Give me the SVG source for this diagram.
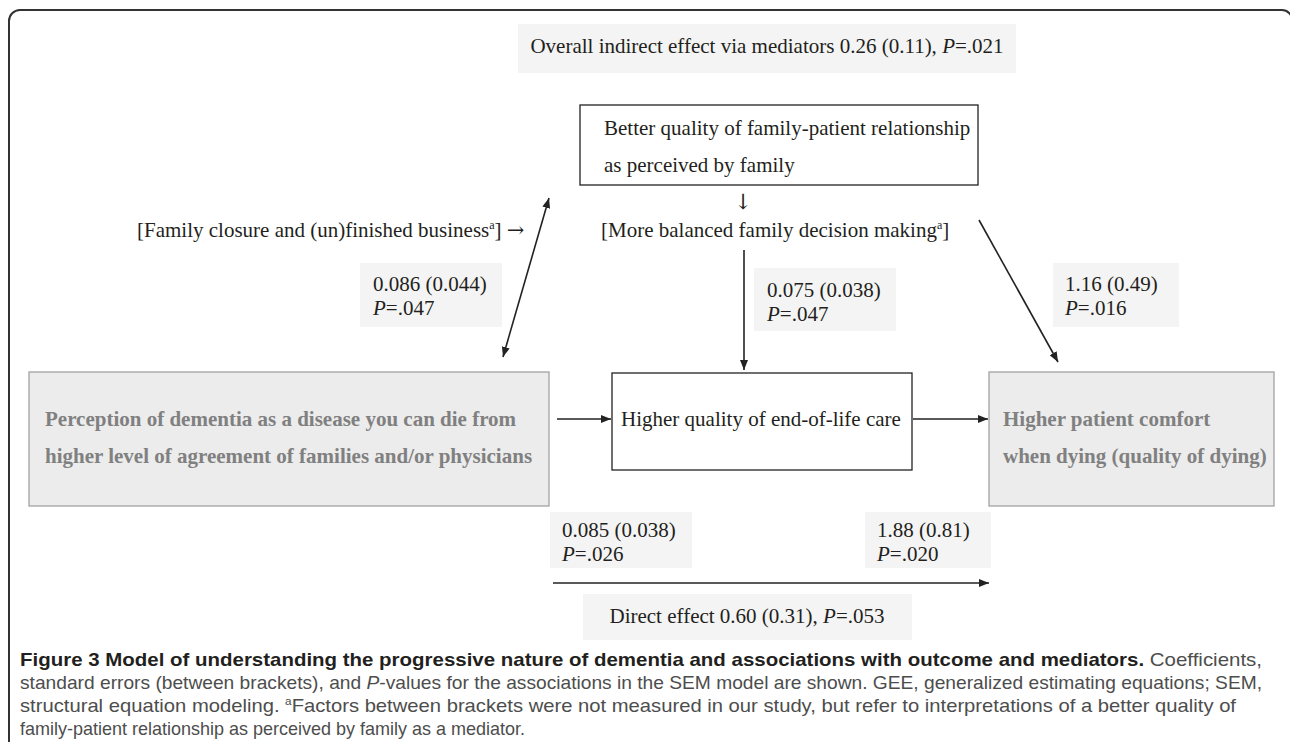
<svg xmlns="http://www.w3.org/2000/svg" width="1290" height="742" viewBox="0 0 1290 742">
<defs>
<marker id="ah" markerWidth="10" markerHeight="8" refX="10" refY="4" orient="auto" markerUnits="userSpaceOnUse"><path d="M0,0 L10,4 L0,8 Z" fill="#222"/></marker>
<marker id="ahs" markerWidth="10" markerHeight="8" refX="0" refY="4" orient="auto" markerUnits="userSpaceOnUse"><path d="M10,0 L0,4 L10,8 Z" fill="#222"/></marker>
<style>
.t{font-family:"Liberation Serif","Times New Roman",serif;font-size:21px;fill:#231f20}
.g{font-family:"Liberation Serif","Times New Roman",serif;font-size:21px;font-weight:bold;fill:#808080}
.ar{font-family:"DejaVu Serif",serif;font-size:21px}
.sup{font-size:12px}
.lab{fill:#f4f4f4;stroke:none}
.box{fill:#fff;stroke:#222;stroke-width:1.3}
.gbox{fill:#ececec;stroke:#a3a3a3;stroke-width:1.3}
.ln{stroke:#222;stroke-width:1.6;fill:none}
.cap{font-family:"Liberation Sans Narrow","Liberation Sans",sans-serif;font-size:19px;fill:#4d4d4d}
.capb{font-weight:bold;fill:#231f20}
</style>
</defs>
<path d="M9,742 V21 A11,11 0 0 1 20,10 H1282 A10,10 0 0 1 1292,20 V742" fill="none" stroke="#333" stroke-width="2"/>

<g id="connectors">
<line class="ln" x1="549" y1="198" x2="503" y2="357" marker-start="url(#ahs)" marker-end="url(#ah)"/>
<line class="ln" x1="744" y1="250" x2="744" y2="370" marker-end="url(#ah)"/>
<line class="ln" x1="979" y1="220" x2="1058" y2="362" marker-end="url(#ah)"/>
<line class="ln" x1="557" y1="419" x2="611" y2="419" marker-end="url(#ah)"/>
<line class="ln" x1="913" y1="419" x2="988" y2="419" marker-end="url(#ah)"/>
<line class="ln" x1="553" y1="583" x2="989" y2="583" marker-end="url(#ah)"/>
</g>

<g id="overall">
<rect class="lab" x="518" y="24" width="498" height="49"/>
<text class="t" x="767" y="53" text-anchor="middle">Overall indirect effect via mediators 0.26 (0.11), <tspan font-style="italic">P</tspan>=.021</text>
</g>

<g id="relationship">
<rect class="box" x="580" y="105" width="398" height="80"/>
<text class="t" x="604" y="135">Better quality of family-patient relationship</text>
<text class="t" x="604" y="172">as perceived by family</text>
</g>

<g id="decision">
<text class="t" x="743" y="209" text-anchor="middle"><tspan class="ar">↓</tspan></text>
<text class="t" x="601" y="237">[More balanced family decision making<tspan class="sup" dy="-8">a</tspan><tspan dy="8">]</tspan></text>
</g>

<g id="closure">
<text class="t" x="137" y="237">[Family closure and (un)finished business<tspan class="sup" dy="-8">a</tspan><tspan dy="8">] </tspan><tspan class="ar">→</tspan></text>
</g>

<g id="coef1">
<rect class="lab" x="360" y="263" width="142" height="64"/>
<text class="t" x="373" y="291">0.086 (0.044)</text>
<text class="t" x="373" y="315"><tspan font-style="italic">P</tspan>=.047</text>
</g>

<g id="coef2">
<rect class="lab" x="754" y="268" width="142" height="63"/>
<text class="t" x="767" y="297">0.075 (0.038)</text>
<text class="t" x="767" y="321"><tspan font-style="italic">P</tspan>=.047</text>
</g>

<g id="coef3">
<rect class="lab" x="1053" y="263" width="126" height="64"/>
<text class="t" x="1065" y="291">1.16 (0.49)</text>
<text class="t" x="1065" y="315"><tspan font-style="italic">P</tspan>=.016</text>
</g>

<g id="perception">
<rect class="gbox" x="29" y="372" width="520" height="134"/>
<text class="g" x="45" y="426">Perception of dementia as a disease you can die from</text>
<text class="g" x="45" y="463">higher level of agreement of families and/or physicians</text>
</g>

<g id="care">
<rect class="box" x="612" y="373" width="300" height="97"/>
<text class="t" x="621" y="426">Higher quality of end-of-life care</text>
</g>

<g id="comfort">
<rect class="gbox" x="989" y="372" width="285" height="134"/>
<text class="g" x="1003" y="426">Higher patient comfort</text>
<text class="g" x="1003" y="463">when dying (quality of dying)</text>
</g>

<g id="coef4">
<rect class="lab" x="550" y="512" width="142" height="56"/>
<text class="t" x="562" y="537">0.085 (0.038)</text>
<text class="t" x="562" y="561"><tspan font-style="italic">P</tspan>=.026</text>
</g>

<g id="coef5">
<rect class="lab" x="865" y="512" width="126" height="56"/>
<text class="t" x="877" y="537">1.88 (0.81)</text>
<text class="t" x="877" y="561"><tspan font-style="italic">P</tspan>=.020</text>
</g>

<g id="direct">
<rect class="lab" x="583" y="594" width="329" height="46"/>
<text class="t" x="747" y="623" text-anchor="middle">Direct effect 0.60 (0.31), <tspan font-style="italic">P</tspan>=.053</text>
</g>

<g id="caption">
<text class="cap" x="20" y="666" textLength="1242" lengthAdjust="spacingAndGlyphs"><tspan class="capb">Figure 3 Model of understanding the progressive nature of dementia and associations with outcome and mediators.</tspan> Coefficients,</text>
<text class="cap" x="20" y="689" textLength="1242" lengthAdjust="spacingAndGlyphs">standard errors (between brackets), and <tspan font-style="italic">P</tspan>-values for the associations in the SEM model are shown. GEE, generalized estimating equations; SEM,</text>
<text class="cap" x="20" y="712" textLength="1216" lengthAdjust="spacingAndGlyphs">structural equation modeling. <tspan font-size="11" dy="-7">a</tspan><tspan dy="7">Factors between brackets were not measured in our study, but refer to interpretations of a better quality of</tspan></text>
<text class="cap" x="20" y="735" textLength="505" lengthAdjust="spacingAndGlyphs">family-patient relationship as perceived by family as a mediator.</text>
</g>
</svg>
